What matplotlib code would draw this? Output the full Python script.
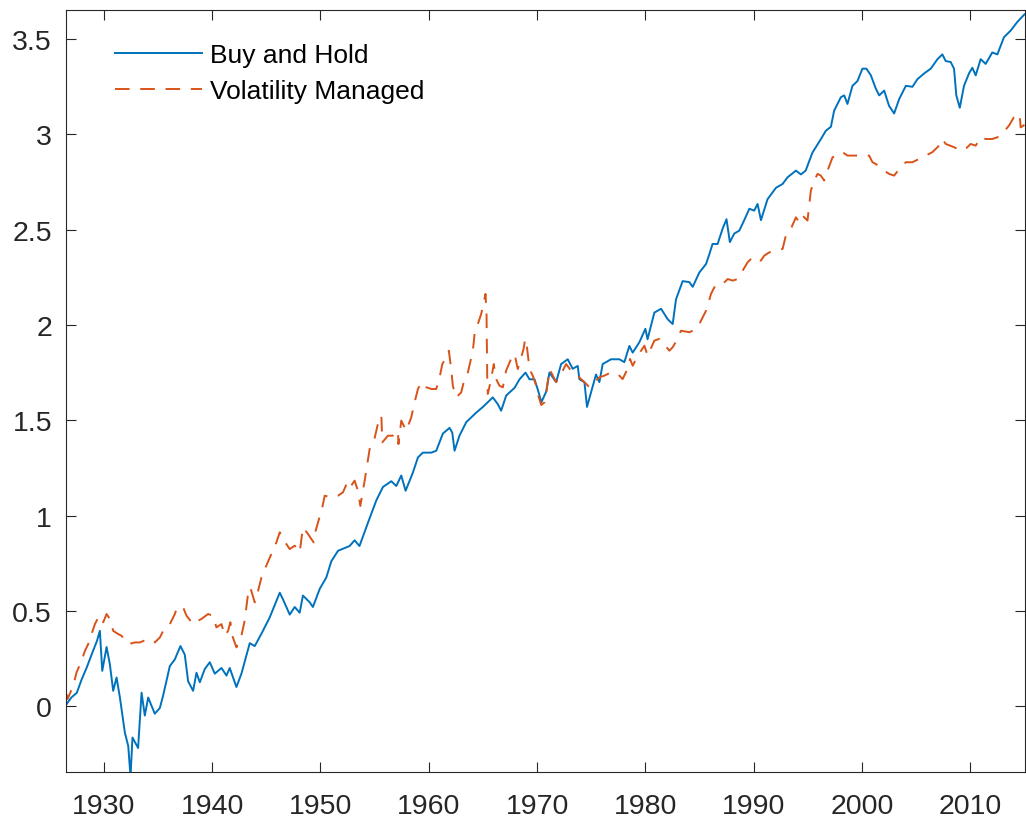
import matplotlib
matplotlib.use('Agg')
import matplotlib.pyplot as plt

plt.rcParams['font.family'] = ['Liberation Sans', 'DejaVu Sans']

# Buy and Hold (log cumulative return)
bh_year = [1926.55, 1927.0, 1927.5, 1927.95, 1928.4, 1929.0, 1929.35, 1929.63, 1929.85, 1930.25,
           1930.55, 1930.86, 1931.17, 1931.48, 1931.94, 1932.25, 1932.46, 1932.64, 1933.16, 1933.48,
           1933.78, 1934.09, 1934.70, 1935.17, 1935.47, 1936.09, 1936.55, 1937.07, 1937.47, 1937.78,
           1938.24, 1938.55, 1938.86, 1939.32, 1939.78, 1940.24, 1940.86, 1941.32, 1941.62, 1942.24,
           1942.70, 1943.47, 1943.93, 1944.55, 1945.31, 1946.24, 1946.54, 1947.16, 1947.62, 1948.08,
           1948.38, 1949.0, 1949.3, 1949.93, 1950.54, 1951.0, 1951.62, 1952.69, 1953.15, 1953.6,
           1954.5, 1955.16, 1955.77, 1956.54, 1957.0, 1957.46, 1957.86, 1958.53, 1959.0, 1959.45,
           1960.23, 1960.69, 1961.3, 1961.92, 1962.17, 1962.38, 1962.84, 1963.46, 1964.38, 1965.0,
           1965.45, 1965.91, 1966.37, 1966.68, 1967.15, 1967.92, 1968.38, 1968.93, 1969.3, 1969.76,
           1970.07, 1970.40, 1970.84, 1971.14, 1971.76, 1972.22, 1972.83, 1973.29, 1973.75, 1973.91,
           1974.37, 1974.61, 1974.98, 1975.44, 1975.75, 1976.06, 1976.83, 1977.6, 1978.06, 1978.52,
           1978.83, 1979.45, 1980.0, 1980.2, 1980.83, 1981.45, 1982.06, 1982.52, 1982.83, 1983.44,
           1984.06, 1984.37, 1984.98, 1985.6, 1985.9, 1986.2, 1986.67, 1987.13, 1987.49, 1987.8,
           1988.21, 1988.67, 1989.13, 1989.6, 1990.05, 1990.36, 1990.67, 1991.28, 1992.06, 1992.67,
           1993.13, 1993.9, 1994.36, 1994.8, 1995.43, 1996.2, 1996.67, 1997.13, 1997.43, 1998.05,
           1998.36, 1998.66, 1999.12, 1999.58, 2000.04, 2000.41, 2000.82, 2001.28, 2001.59, 2002.05,
           2002.5, 2002.97, 2003.43, 2004.05, 2004.66, 2005.12, 2005.74, 2006.35, 2006.97, 2007.42,
           2007.73, 2008.19, 2008.5, 2008.71, 2009.03, 2009.42, 2009.88, 2010.19, 2010.5, 2010.96,
           2011.42, 2012.03, 2012.5, 2013.11, 2013.73, 2014.34, 2015.0]
bh_val = [0.01, 0.045, 0.07, 0.14, 0.20, 0.29, 0.34, 0.395, 0.185, 0.31,
          0.22, 0.08, 0.15, 0.045, -0.14, -0.21, -0.37, -0.165, -0.22, 0.07,
          -0.05, 0.045, -0.04, -0.01, 0.055, 0.21, 0.245, 0.315, 0.27, 0.13,
          0.08, 0.175, 0.125, 0.195, 0.23, 0.17, 0.20, 0.16, 0.20, 0.10,
          0.17, 0.33, 0.315, 0.38, 0.465, 0.595, 0.56, 0.48, 0.52, 0.49,
          0.58, 0.545, 0.52, 0.615, 0.675, 0.76, 0.815, 0.84, 0.87, 0.84,
          0.98, 1.08, 1.15, 1.18, 1.155, 1.21, 1.13, 1.225, 1.305, 1.33,
          1.33, 1.34, 1.43, 1.46, 1.435, 1.34, 1.42, 1.49, 1.54, 1.57,
          1.595, 1.62, 1.585, 1.55, 1.63, 1.67, 1.715, 1.75, 1.715, 1.715,
          1.66, 1.595, 1.65, 1.75, 1.70, 1.795, 1.82, 1.77, 1.785, 1.715,
          1.70, 1.57, 1.645, 1.74, 1.70, 1.795, 1.82, 1.82, 1.805, 1.89,
          1.855, 1.91, 1.98, 1.925, 2.065, 2.085, 2.03, 2.005, 2.135, 2.23,
          2.225, 2.20, 2.275, 2.32, 2.37, 2.425, 2.425, 2.505, 2.555, 2.435,
          2.48, 2.495, 2.55, 2.61, 2.60, 2.635, 2.55, 2.66, 2.72, 2.74,
          2.775, 2.81, 2.79, 2.81, 2.905, 2.975, 3.02, 3.04, 3.125, 3.195,
          3.205, 3.16, 3.255, 3.28, 3.345, 3.345, 3.31, 3.24, 3.205, 3.23,
          3.15, 3.11, 3.185, 3.255, 3.25, 3.29, 3.32, 3.345, 3.395, 3.42,
          3.385, 3.38, 3.345, 3.205, 3.14, 3.255, 3.32, 3.35, 3.31, 3.395,
          3.37, 3.43, 3.42, 3.51, 3.545, 3.59, 3.63]

# Volatility Managed
vm_year = [1926.55, 1926.65, 1927.17, 1927.48, 1927.94, 1928.25, 1928.55, 1928.86, 1929.17, 1929.57,
           1929.94, 1930.25, 1930.55, 1930.86, 1931.32, 1931.63, 1932.25, 1932.86, 1933.32, 1934.09,
           1934.70, 1935.17, 1935.63, 1936.09, 1936.55, 1936.76, 1937.32, 1937.63, 1938.24, 1938.7,
           1939.0, 1939.62, 1940.08, 1940.39, 1940.86, 1941.16, 1941.47, 1941.68, 1941.86, 1942.24,
           1942.70, 1943.0, 1943.31, 1943.52, 1943.93, 1944.24, 1944.55, 1945.0, 1945.47, 1945.93,
           1946.24, 1946.54, 1947.16, 1947.62, 1948.08, 1948.38, 1948.85, 1949.37, 1949.47, 1949.86,
           1950.17, 1950.39, 1951.0, 1951.62, 1952.08, 1952.54, 1952.84, 1953.15, 1953.46, 1953.68,
           1954.08, 1954.54, 1954.91, 1955.37, 1955.62, 1955.71, 1956.23, 1956.69, 1957.15, 1957.2,
           1957.46, 1957.92, 1958.38, 1958.69, 1959.0, 1959.3, 1959.77, 1960.23, 1960.69, 1961.0,
           1961.25, 1961.62, 1961.85, 1962.07, 1962.22, 1962.53, 1962.99, 1963.3, 1963.61, 1964.07,
           1964.23, 1964.53, 1964.84, 1965.24, 1965.33, 1965.36, 1965.40, 1965.45, 1965.76, 1966.0,
           1966.22, 1966.53, 1966.84, 1967.14, 1967.6, 1967.92, 1968.22, 1968.53, 1968.75, 1968.9,
           1969.05, 1969.3, 1969.6, 1969.92, 1970.07, 1970.38, 1970.69, 1970.84, 1971.14, 1971.76,
           1972.22, 1972.68, 1973.14, 1973.6, 1974.06, 1974.37, 1974.83, 1975.29, 1975.75, 1976.21,
           1976.83, 1977.44, 1977.9, 1978.27, 1978.58, 1978.83, 1979.29, 1979.6, 1979.91, 1980.21,
           1980.83, 1981.29, 1981.75, 1982.21, 1982.52, 1982.98, 1983.28, 1984.06, 1984.37, 1984.83,
           1985.14, 1985.6, 1986.06, 1986.37, 1986.83, 1987.29, 1987.6, 1988.06, 1988.52, 1988.98,
           1989.44, 1989.9, 1990.2, 1990.67, 1990.98, 1991.44, 1992.06, 1992.67, 1992.97, 1993.43,
           1993.9, 1994.2, 1994.51, 1994.97, 1995.28, 1995.59, 1995.9, 1996.2, 1996.51, 1996.82,
           1997.28, 1997.74, 1998.2, 1998.66, 1999.28, 1999.74, 2000.66, 2000.97, 2001.28, 2002.05,
           2002.5, 2002.97, 2003.58, 2004.05, 2004.66, 2005.27, 2005.9, 2006.5, 2007.12, 2007.42,
           2007.73, 2008.5, 2009.1, 2009.57, 2010.03, 2010.5, 2010.96, 2011.42, 2012.03, 2012.5,
           2012.8, 2013.57, 2014.03, 2014.56, 2014.65, 2015.0]
vm_val = [0.063, 0.037, 0.107, 0.177, 0.238, 0.29, 0.325, 0.378, 0.43, 0.474,
          0.44, 0.483, 0.457, 0.395, 0.378, 0.369, 0.325, 0.334, 0.334, 0.352,
          0.334, 0.36, 0.413, 0.43, 0.483, 0.518, 0.518, 0.474, 0.43, 0.448,
          0.457, 0.483, 0.474, 0.413, 0.43, 0.369, 0.395, 0.44, 0.369, 0.308,
          0.369, 0.448, 0.588, 0.623, 0.544, 0.605, 0.675, 0.737, 0.798, 0.859,
          0.912, 0.877, 0.824, 0.842, 0.807, 0.938, 0.903, 0.859, 0.903, 0.982,
          1.043, 1.104, 1.095, 1.104, 1.122, 1.183, 1.157, 1.183, 1.13, 1.05,
          1.183, 1.349, 1.384, 1.498, 1.524, 1.384, 1.419, 1.419, 1.445, 1.375,
          1.498, 1.445, 1.515, 1.594, 1.664, 1.699, 1.673, 1.664, 1.664, 1.725,
          1.795, 1.83, 1.865, 1.769, 1.681, 1.62, 1.646, 1.716, 1.751, 1.865,
          1.953, 2.005, 2.058, 2.163, 2.067, 1.909, 1.716, 1.638, 1.716, 1.795,
          1.716, 1.681, 1.673, 1.76, 1.822, 1.848, 1.769, 1.83, 1.874, 1.927,
          1.891, 1.769, 1.734, 1.681, 1.638, 1.58, 1.594, 1.638, 1.769, 1.70,
          1.743, 1.795, 1.76, 1.743, 1.716, 1.70, 1.673, 1.70, 1.725, 1.734,
          1.751, 1.743, 1.716, 1.76, 1.822, 1.786, 1.839, 1.865, 1.891, 1.839,
          1.918, 1.927, 1.90, 1.865, 1.883, 1.927, 1.97, 1.962, 1.97, 1.988,
          2.023, 2.075, 2.163, 2.198, 2.198, 2.224, 2.241, 2.233, 2.241, 2.285,
          2.329, 2.355, 2.338, 2.338, 2.364, 2.381, 2.39, 2.399, 2.469, 2.504,
          2.565, 2.539, 2.574, 2.548, 2.705, 2.758, 2.793, 2.784, 2.758, 2.81,
          2.88, 2.889, 2.907, 2.889, 2.889, 2.889, 2.889, 2.854, 2.845, 2.81,
          2.793, 2.784, 2.828, 2.854, 2.854, 2.871, 2.889, 2.907, 2.941, 2.976,
          2.95, 2.933, 2.915, 2.924, 2.95, 2.941, 2.985, 2.976, 2.976, 2.985,
          2.994, 3.046, 3.09, 3.107, 3.037, 3.05]

xticks = [1930, 1940, 1950, 1960, 1970, 1980, 1990, 2000, 2010]
yticks = [0, 0.5, 1, 1.5, 2, 2.5, 3, 3.5]
ytick_labels = ['0', '0.5', '1', '1.5', '2', '2.5', '3', '3.5']

fig = plt.figure(figsize=(10.26, 8.2), dpi=100)
ax = fig.add_axes([0.0643, 0.0573, 0.9347, 0.9293])

ax.plot(bh_year, bh_val, color='#0072BD', lw=1.4, label='Buy and Hold')
ax.plot(vm_year, vm_val, color='#D95319', lw=1.4, linestyle=(0, (7.5, 5.5)),
        label='Volatility Managed')

ax.set_xlim(1926.5, 2015.05)
ax.set_ylim(-0.346, 3.653)
ax.set_xticks(xticks)
ax.set_yticks(yticks)
ax.set_yticklabels(ytick_labels)

for s in ax.spines.values():
    s.set_color('#262626')
    s.set_linewidth(0.8)
ax.tick_params(direction='in', length=7, width=0.8, color='#262626',
               labelcolor='#262626', labelsize=20.5, top=True, right=True)
ax.tick_params(axis='x', pad=15)
ax.tick_params(axis='y', pad=10)

ax.legend(loc='upper left', bbox_to_anchor=(0.051, 0.957), frameon=False,
          fontsize=19, handlelength=3.3, handletextpad=0.3, labelspacing=0.46,
          borderpad=0, borderaxespad=0)

fig.savefig('out.png', dpi=100)
